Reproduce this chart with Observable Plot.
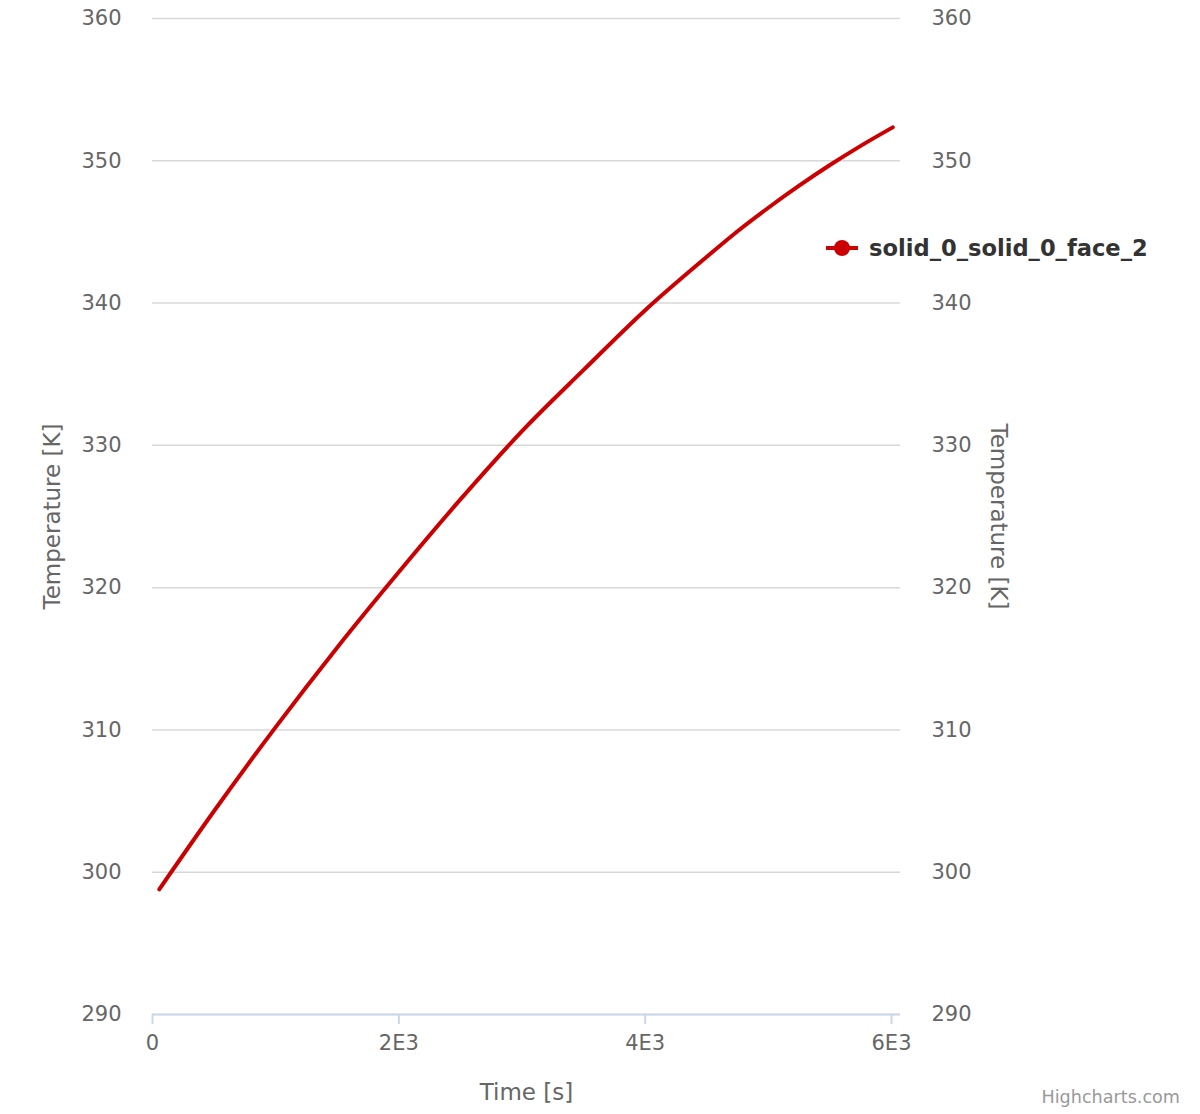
<!DOCTYPE html>
<html>
<head>
<meta charset="utf-8">
<script src="https://cdn.jsdelivr.net/npm/d3@7"></script>
<script src="https://cdn.jsdelivr.net/npm/@observablehq/plot@0.6"></script>
<style>
  html, body { margin: 0; padding: 0; background: #fff; }
  #wrap { position: relative; width: 1200px; height: 1114px; font-family: "DejaVu Sans", sans-serif; }
  #legend { position: absolute; left: 826px; top: 235px; display: flex; align-items: center; font-weight: bold; font-size: 22.6px; color: #333; white-space: nowrap; }
  #legend svg { margin-right: 11px; }
  #credits { position: absolute; right: 20px; top: 1087px; font-size: 17.6px; color: #999; }
</style>
</head>
<body>
<div id="wrap">
  <div id="chart"></div>
  <div id="legend"></div>
  <div id="credits">Highcharts.com</div>
</div>
<script>
// Data
const seriesName = "solid_0_solid_0_face_2";
const time = [55, 500, 1000, 1500, 2000, 2500, 3000, 3500, 4000, 4500, 4750, 5000, 5250, 5500, 5750, 6010];
const temperature = [298.8, 304.3, 310.2, 315.8, 321.1, 326.2, 331.0, 335.3, 339.5, 343.25, 345.05, 346.7, 348.25, 349.7, 351.05, 352.35];
const xTicks = [0, 2000, 4000, 6000];
const xTickLabels = ["0", "2E3", "4E3", "6E3"];
const yTicks = [290, 300, 310, 320, 330, 340, 350, 360];
const xTitle = "Time [s]";
const yTitle = "Temperature [K]";

const data = time.map((t, i) => ({time: t, temp: temperature[i]}));
const lineColor = "#cc0000";

const chart = Plot.plot({
  width: 1200,
  height: 1114,
  marginLeft: 152,
  marginRight: 300,
  marginTop: 18,
  marginBottom: 100,
  style: {fontFamily: "DejaVu Sans, sans-serif", fontSize: "21px", background: "#fff", color: "#666", overflow: "visible"},
  x: {domain: [0, 6073]},
  y: {domain: [290, 360]},
  marks: [
    Plot.gridY(yTicks, {stroke: "#d8d8d8", strokeOpacity: 1, strokeWidth: 1.5}),
    Plot.ruleY([290], {stroke: "#ccd6eb", strokeWidth: 2}),
    Plot.axisX(xTicks, {
      anchor: "bottom", tickSize: 10, tickPadding: 11, stroke: "#ccd6eb", strokeWidth: 2,
      fill: "#666", fontSize: 21, label: null,
      tickFormat: d => xTickLabels[xTicks.indexOf(d)]
    }),
    Plot.axisY(yTicks, {anchor: "left", tickSize: 0, tickPadding: 31, fill: "#666", fontSize: 21, label: null}),
    Plot.axisY(yTicks, {anchor: "right", tickSize: 0, tickPadding: 31, fill: "#666", fontSize: 21, label: null}),
    Plot.text([yTitle], {frameAnchor: "left", rotate: -90, dx: -100, textAnchor: "middle", lineAnchor: "middle", fill: "#666", fontSize: 23}),
    Plot.text([yTitle], {frameAnchor: "right", rotate: 90, dx: 98, textAnchor: "middle", lineAnchor: "middle", fill: "#666", fontSize: 23}),
    Plot.text([xTitle], {frameAnchor: "bottom", dy: 78, textAnchor: "middle", lineAnchor: "middle", fill: "#666", fontSize: 23}),
    Plot.line(data, {x: "time", y: "temp", stroke: lineColor, strokeWidth: 4, curve: "monotone-x", strokeLinecap: "round", strokeLinejoin: "round"})
  ]
});
document.getElementById("chart").appendChild(chart);

// Legend
const legend = d3.select("#legend");
const sym = legend.append("svg").attr("width", 32).attr("height", 20);
sym.append("line").attr("x1", 0).attr("x2", 32).attr("y1", 10).attr("y2", 10).attr("stroke", lineColor).attr("stroke-width", 4);
sym.append("circle").attr("cx", 16).attr("cy", 10).attr("r", 8).attr("fill", lineColor);
legend.append("span").text(seriesName);
</script>
</body>
</html>
